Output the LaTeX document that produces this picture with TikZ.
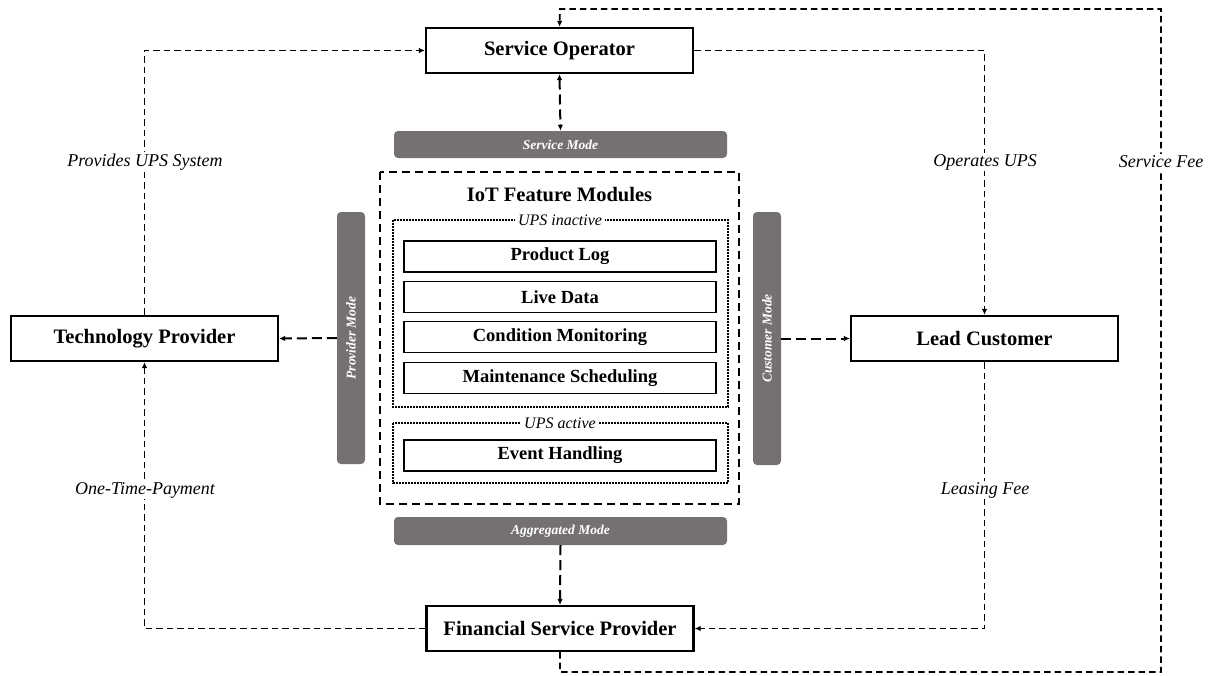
\documentclass[tikz,border=0pt]{standalone}
\usepackage{fontspec}
\setmainfont{Liberation Serif}
\usetikzlibrary{arrows.meta}
\definecolor{bargray}{RGB}{118,113,113}
\tikzset{
  actor/.style={draw, line width=2.2pt, minimum width=267pt, minimum height=45pt, inner sep=0pt,
    font=\fontsize{20.5}{24}\selectfont\bfseries},
  module/.style={draw, line width=1.2pt, minimum width=312pt, minimum height=31pt, inner sep=0pt,
    font=\fontsize{18.5}{22}\selectfont\bfseries},
  modebar/.style={fill=bargray, rounded corners=4pt, inner sep=0pt},
  modetext/.style={text=white, font=\fontsize{13.5}{16}\selectfont\bfseries\itshape, inner sep=0pt},
  conn/.style={line width=1.8pt, dash pattern=on 6.5pt off 4pt, -{Latex[length=6pt,width=5.5pt]}},
  modeconn/.style={line width=2pt, dash pattern=on 10pt off 5pt, -{Latex[length=6pt,width=5.5pt]}},
  lab/.style={fill=white, inner sep=1.5pt, font=\fontsize{18}{21}\selectfont\itshape},
  grouplab/.style={fill=white, inner sep=3pt, font=\fontsize{16}{19}\selectfont\itshape},
  dotbox/.style={draw, line width=1.8pt, dash pattern=on 1.6pt off 1.4pt},
}
\begin{document}
\begin{tikzpicture}[x=1pt, y=-1pt]
\useasboundingbox[fill=white] (0,0) rectangle (1213,675);

% actors
\node[actor] (so) at (559.5,50.5) {Service Operator};
\node[actor] (tp) at (144.5,338.5) {Technology Provider};
\node[actor] (lc) at (984.5,338.5) {Lead Customer};
\node[actor] (fsp) at (560,628.5) {Financial Service Provider};

% mode bars
\node[modebar, minimum width=333pt, minimum height=27pt] (sm) at (560.5,144.5) {};
\node[modetext] (smt) at (sm.center) {Service Mode};
\node[modebar, minimum width=333pt, minimum height=28pt] (am) at (560.5,531) {};
\node[modetext] (amt) at (am.center) {Aggregated Mode};
\node[modebar, minimum width=28pt, minimum height=252pt] (pm) at (351,338) {};
\node[modetext, rotate=90] (pmt) at (pm.center) {Provider Mode};
\node[modebar, minimum width=28pt, minimum height=253pt] (cm) at (767,338.5) {};
\node[modetext, rotate=90] (cmt) at (cm.center) {Customer Mode};

% IoT box
\draw[line width=2.2pt, dash pattern=on 8pt off 5pt] (380,172) rectangle (739,504);
\node[font=\fontsize{20.5}{24}\selectfont\bfseries] (iot) at (559.5,195) {IoT Feature Modules};

\draw[dotbox] (393,220) rectangle (728,407);
\node[grouplab] (inact) at (560,220) {UPS inactive};
\node[module] (pl) at (560,256.5) {Product Log};
\node[module] (ld) at (560,297) {Live Data};
\node[module] (cmon) at (560,337) {Condition Monitoring};
\node[module] (ms) at (560,378) {Maintenance Scheduling};

\draw[dotbox] (393,423) rectangle (728,483);
\node[grouplab] (act) at (560,423) {UPS active};
\node[module] (eh) at (560,455.5) {Event Handling};

% mode connectors
\draw[modeconn, {Latex[length=6pt,width=5.5pt]}-{Latex[length=6pt,width=5.5pt]}] (so.south) -- (sm.north);
\draw[modeconn] (am.south) -- (fsp.north);
\draw[modeconn] (pm.west) -- (tp.east);
\draw[modeconn] (cm.east) -- (lc.west);

% value connectors
\draw[conn] (tp.north) |- (so.west);
\draw[conn] (so.east) -| (lc.north);
\draw[conn] (lc.south) |- (fsp.east);
\draw[conn] (fsp.west) -| (tp.south);
\coordinate (l1) at (560,672);
\coordinate (l2) at (1161,672);
\coordinate (l3) at (1161,9);
\coordinate (l4) at (560,9);
\draw[conn] (fsp.south) -- (l1) -- (l2) -- (l3) -- (l4) -- (so.north);

% labels
\node[lab] (lbl1) at (145,162) {Provides UPS System};
\node[lab] (lbl2) at (985,162) {Operates UPS};
\node[lab] (lbl3) at (1161,162) {Service Fee};
\node[lab] (lbl4) at (145,490) {One-Time-Payment};
\node[lab] (lbl5) at (985,490) {Leasing Fee};
\end{tikzpicture}
\end{document}
